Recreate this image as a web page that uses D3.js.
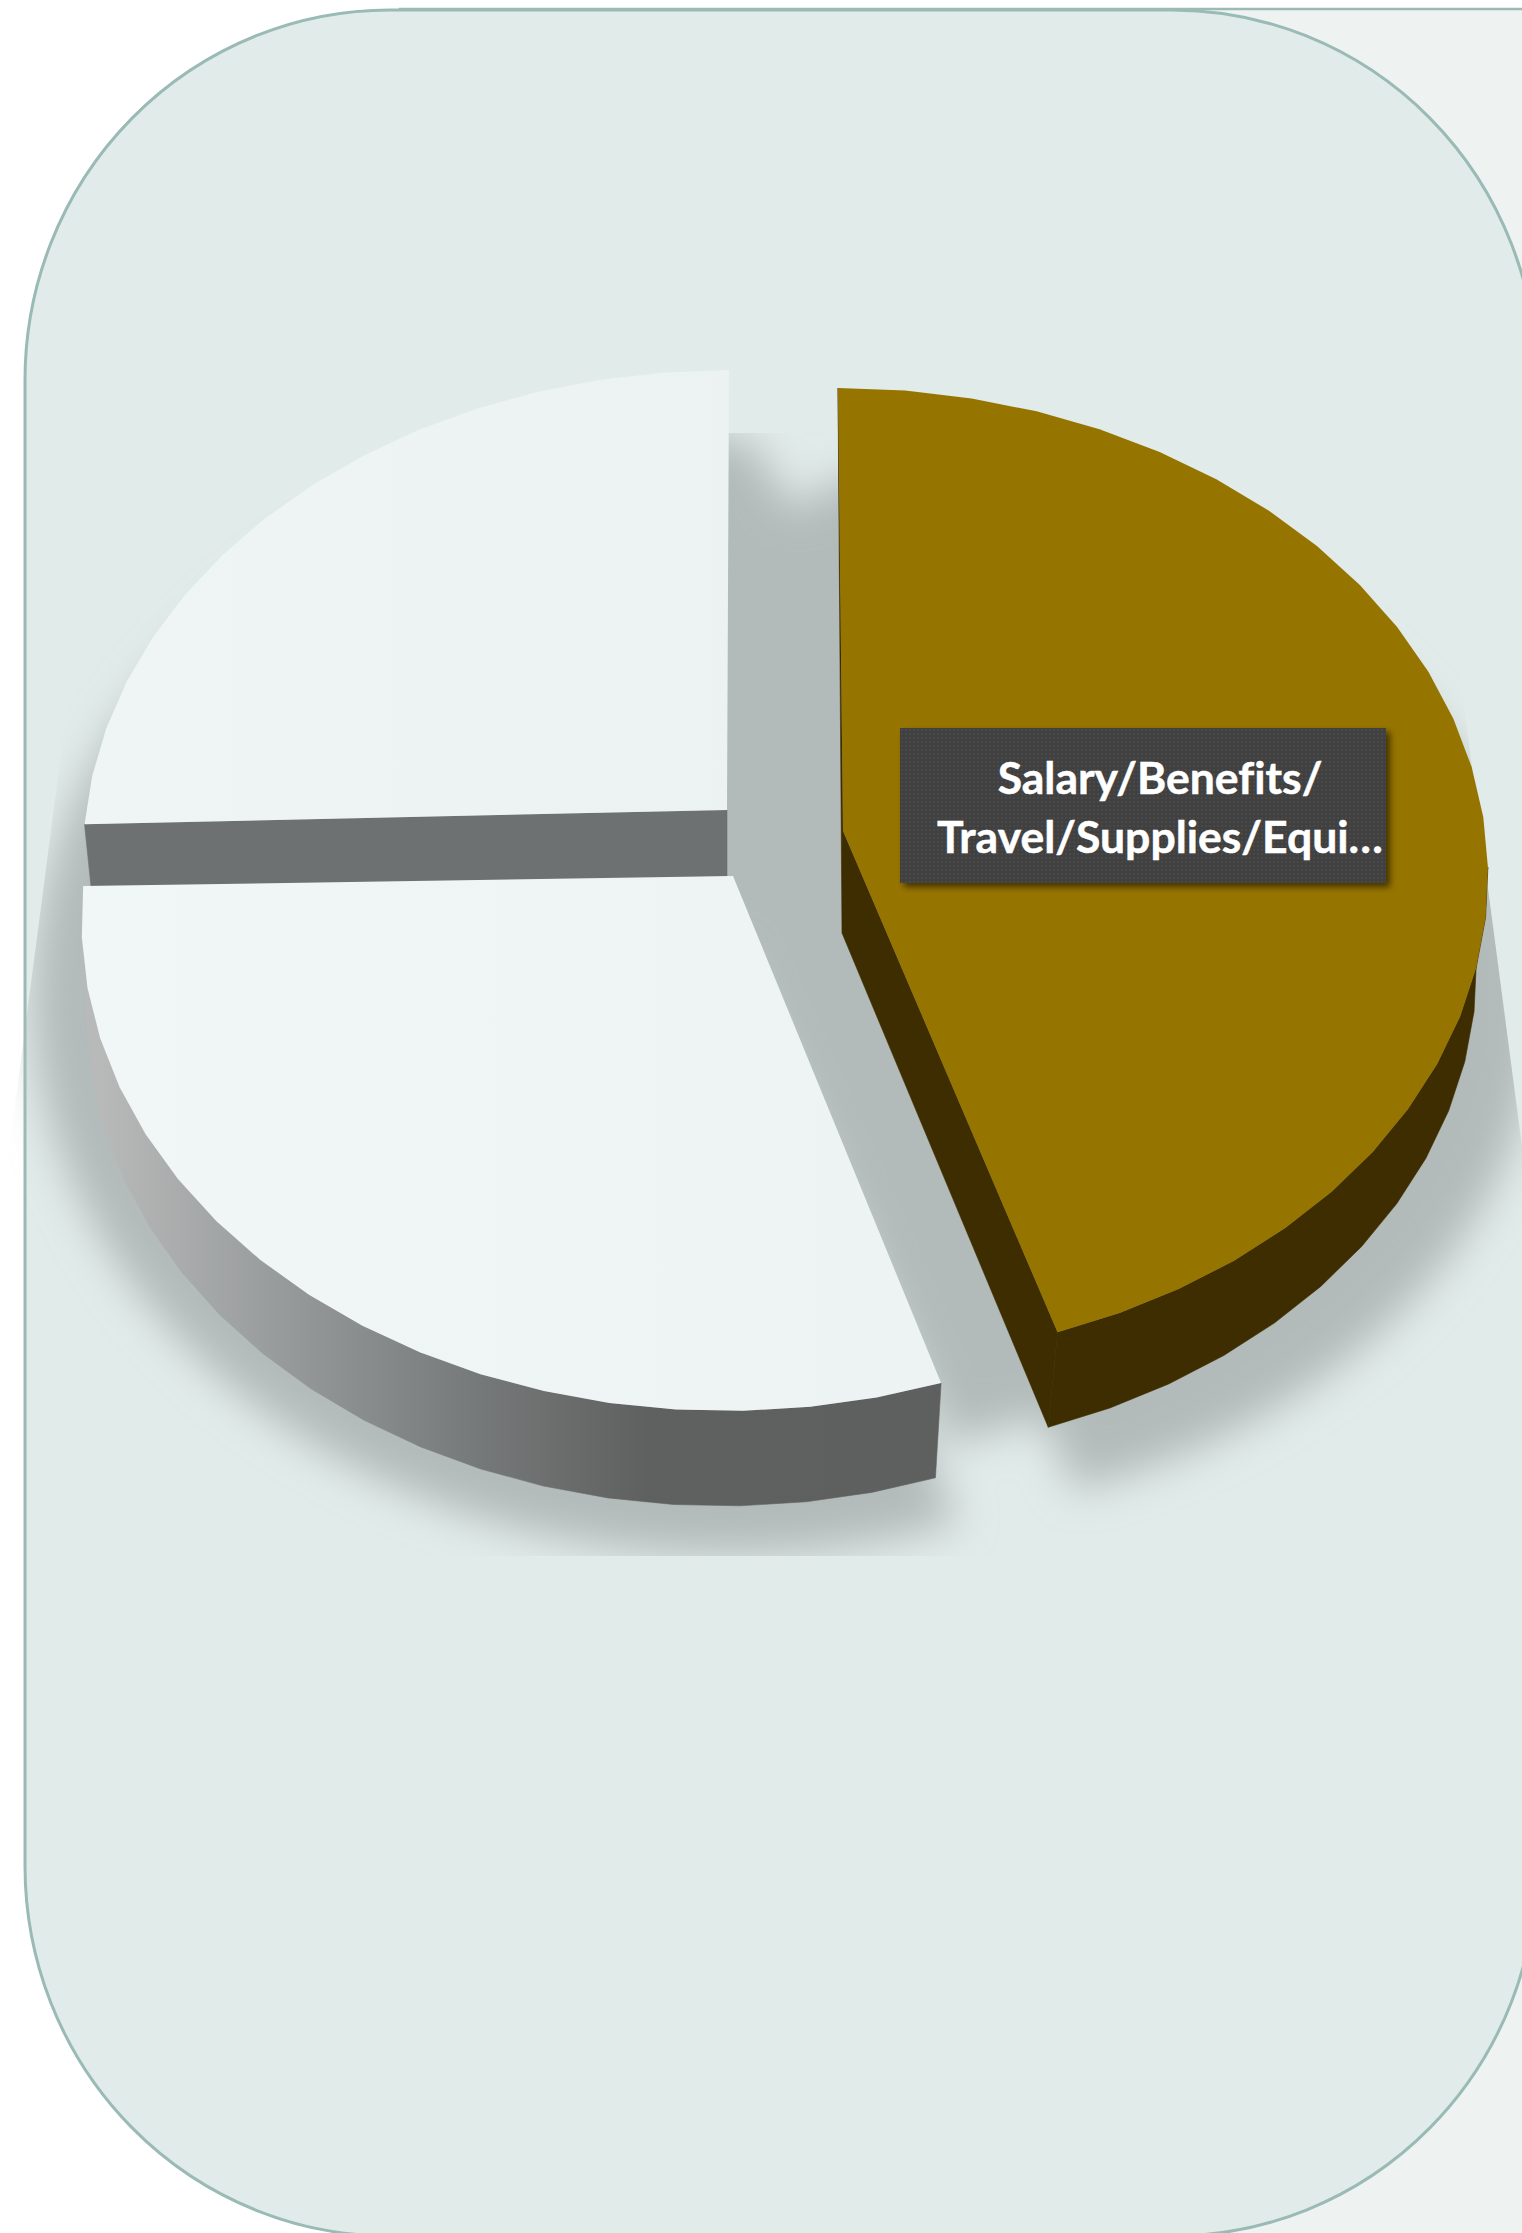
<!DOCTYPE html>
<html>
<head>
<meta charset="utf-8">
<style>
html, body { margin: 0; padding: 0; background: #fff; overflow: hidden; }
svg { display: block; }
</style>
<script src="https://cdn.jsdelivr.net/npm/d3@7"></script>
</head>
<body>
<div id="chart"></div>
<script>
// values, clockwise from 12 o'clock
var slices = ["Salary/Benefits/Travel/Supplies/Equi...", "", ""];
var values = [44.6, 31.5, 23.9];
var topColors = ["#967400", "url(#faceLower)", "url(#faceUpper)"];
var sideColors = ["#3d2d00", "url(#sideLower)", "#6d7171"];
var labelLines = ["Salary/Benefits/", "Travel/Supplies/Equi\u2026"];

var width = 1522, height = 2233;
var deg = Math.PI / 180;

// every slice is exploded and seen in perspective, so each one has its own top and bottom ellipse
var layout = [
    { top: {cx: 838, cy: 874, rx: 648, ry: 486, skew: 4}, bottom: {cx: 831, cy: 968, rx: 644, ry: 487, skew: 3},
      apex: [843, 831], apexLow: [842, 933], shadow: {cx: 845, cy: 1000, rx: 695, ry: 520},
      wall: [84 * deg, 360 * deg] },
    { top: {cx: 729, cy: 920, rx: 646, ry: 491, skew: -3}, bottom: {cx: 727, cy: 1012, rx: 638, ry: 494, skew: -4},
      apex: [733, 876], apexLow: [733, 970], shadow: {cx: 727, cy: 995, rx: 695, ry: 560},
      wall: [0, 270 * deg] },
    { top: {cx: 729, cy: 858, rx: 646, ry: 488, skew: 0}, bottom: {cx: 727, cy: 935, rx: 636, ry: 487, skew: 0},
      apex: [727, 810], apexLow: [727, 876], shadow: {cx: 727, cy: 995, rx: 695, ry: 560},
      wall: null }
];

var svg = d3.select("#chart").append("svg")
    .attr("width", width)
    .attr("height", height);

var defs = svg.append("defs");

function linear(id, x1, x2, stops) {
    var g = defs.append("linearGradient").attr("id", id)
        .attr("gradientUnits", "userSpaceOnUse")
        .attr("x1", x1).attr("x2", x2).attr("y1", 0).attr("y2", 0);
    stops.forEach(function(s) {
        g.append("stop").attr("offset", s[0]).attr("stop-color", s[1]);
    });
}
linear("faceLower", 84, 940, [[0, "#f1f7f7"], [1, "#edf3f3"]]);
linear("faceUpper", 84, 729, [[0, "#eff5f4"], [1, "#ecf2f1"]]);
linear("sideLower", 100, 940, [[0, "#b8baba"], [0.2, "#9a9d9d"], [0.45, "#767979"], [0.65, "#5f6160"], [1, "#5e605f"]]);

defs.append("filter").attr("id", "softShadow")
    .attr("x", "-20%").attr("y", "-20%").attr("width", "140%").attr("height", "140%")
    .append("feGaussianBlur").attr("stdDeviation", 21);

defs.append("filter").attr("id", "boxShadow")
    .attr("x", "-10%").attr("y", "-10%").attr("width", "120%").attr("height", "120%")
    .append("feGaussianBlur").attr("stdDeviation", 3);

defs.append("clipPath").attr("id", "shadowClip")
    .append("path").attr("d", "M103,433L1428,433L1576,1556L-44,1556Z");

var dots = defs.append("pattern").attr("id", "dots")
    .attr("patternUnits", "userSpaceOnUse")
    .attr("width", 4).attr("height", 4);
dots.append("rect").attr("width", 4).attr("height", 4).attr("fill", "#404040");
dots.append("rect").attr("x", 1).attr("y", 1).attr("width", 2).attr("height", 2).attr("fill", "#494949");

// background panels
svg.append("rect")
    .attr("x", 400).attr("y", 9)
    .attr("width", 1200).attr("height", 2300)
    .attr("fill", "#eef3f2")
    .attr("stroke", "#9abab5")
    .attr("stroke-width", 2.5);

svg.append("rect")
    .attr("x", 25).attr("y", 10)
    .attr("width", 1512).attr("height", 2226)
    .attr("rx", 365).attr("ry", 370)
    .attr("fill", "#e1ebe9")
    .attr("stroke", "#9abab5")
    .attr("stroke-width", 3);

var pie = d3.pie().sort(null).value(function(d) { return d; })
    .startAngle(0).endAngle(2 * Math.PI);
var arcs = pie(values);

var line = d3.line();

function rim(e, a) {
    var skew = e.skew || 0;
    return [e.cx + e.rx * Math.sin(a) + skew * (1 - Math.cos(a)) / 2, e.cy - e.ry * Math.cos(a)];
}

// straight little segments along the rim, like the original rendering
function rimAngles(a0, a1) {
    var n = Math.ceil((a1 - a0) / (6 * deg));
    return d3.range(n + 1).map(function(i) { return a0 + (a1 - a0) * i / n; });
}

function rimPoints(e, a0, a1) {
    return rimAngles(a0, a1).map(function(a) { return rim(e, a); });
}

// shadow on the floor, cut off by the floor's trapezoid
var shadow = svg.append("g").attr("clip-path", "url(#shadowClip)")
    .append("g").attr("filter", "url(#softShadow)").attr("fill", "#b2bbb9");

shadow.selectAll("path.sector")
    .data(arcs)
    .join("path")
    .attr("class", "sector")
    .attr("d", function(d, i) {
        var e = layout[i].shadow;
        return line([[e.cx, e.cy]].concat(rimPoints(e, d.startAngle, d.endAngle))) + "Z";
    });

// the gap between the exploded slices is in shadow too
shadow.append("path")
    .attr("d", line([[700, 440], [750, 440], [795, 510], [850, 470], [870, 830],
        [1090, 1400], [950, 1445], [700, 880]]) + "Z");

// walls first, then the top faces over them
var slice = svg.selectAll("g.slice")
    .data(arcs)
    .join("g")
    .attr("class", "slice");

// back to front: upper left, lower left, brown
slice.filter(function(d) { return d.index === 1; }).raise();
slice.filter(function(d) { return d.index === 0; }).raise();

slice.filter(function(d, i) { return layout[i].wall !== null; })
    .append("path")
    .attr("fill", function(d) { return sideColors[d.index]; })
    .attr("stroke", function(d) { return sideColors[d.index]; })
    .attr("stroke-width", 0.6)
    .attr("d", function(d) {
        var s = layout[d.index];
        // same vertices as the top face, so the wall never pokes past its edge
        var angles = rimAngles(d.startAngle, d.endAngle).filter(function(a) {
            return a >= s.wall[0] && a <= s.wall[1];
        });
        var topEdge = angles.map(function(a) { return rim(s.top, a); });
        var lowEdge = angles.map(function(a) { return rim(s.bottom, a); }).reverse();
        return line(topEdge.concat(lowEdge)) + "Z";
    });

// cut walls facing the viewer
slice.filter(function(d) { return d.index !== 1; })
    .append("path")
    .attr("fill", function(d) { return sideColors[d.index]; })
    .attr("stroke", function(d) { return sideColors[d.index]; })
    .attr("stroke-width", 0.6)
    .attr("d", function(d) {
        var s = layout[d.index];
        if (d.index === 0) {
            return line([rim(s.top, d.startAngle), s.apexLow, rim(s.bottom, d.endAngle),
                rim(s.top, d.endAngle), s.apex]) + "Z";
        }
        return line([s.apex, s.apexLow, rim(s.bottom, d.startAngle), rim(s.top, d.startAngle)]) + "Z";
    });

slice.append("path")
    .attr("fill", function(d) { return topColors[d.index]; })
    .attr("d", function(d) {
        var s = layout[d.index];
        return line([s.apex].concat(rimPoints(s.top, d.startAngle, d.endAngle))) + "Z";
    });

// data label of the brown slice
var label = svg.append("g");

label.append("rect")
    .attr("x", 904).attr("y", 732)
    .attr("width", 486).attr("height", 155)
    .attr("fill", "#000").attr("opacity", 0.55)
    .attr("filter", "url(#boxShadow)");

label.append("rect")
    .attr("x", 900).attr("y", 728)
    .attr("width", 486).attr("height", 155)
    .attr("fill", "url(#dots)");

label.selectAll("text")
    .data(labelLines)
    .join("text")
    .attr("x", 1160)
    .attr("y", function(d, i) { return 794 + i * 59; })
    .attr("text-anchor", "middle")
    .attr("font-family", "Lato, 'Open Sans', sans-serif")
    .attr("font-weight", 700)
    .attr("font-size", 44.5)
    .style("font-variant-ligatures", "none")
    .attr("fill", "#fff")
    .attr("stroke", "#fff")
    .attr("stroke-width", 0.5)
    .text(function(d) { return d; });
</script>
</body>
</html>
